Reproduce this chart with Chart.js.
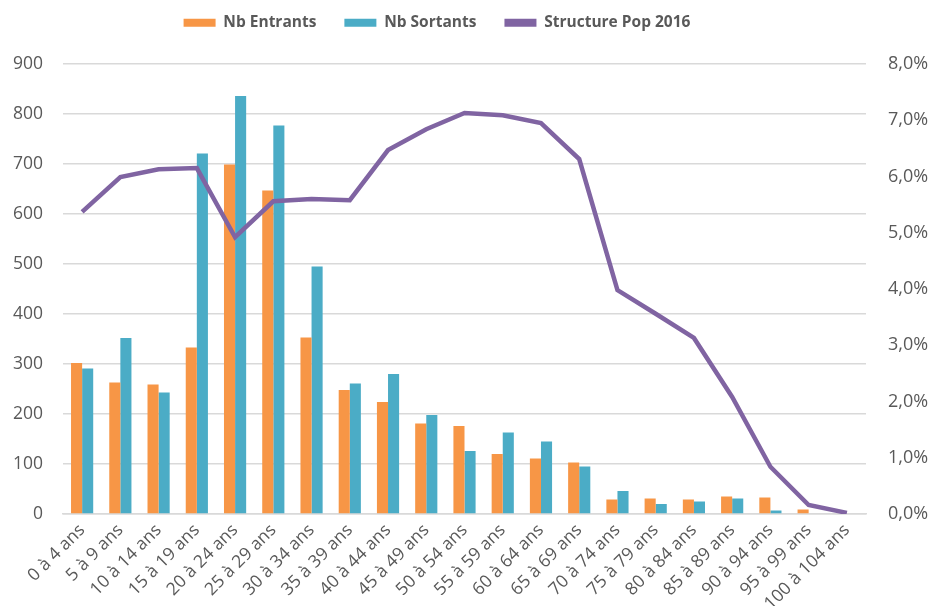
<!DOCTYPE html>
<html>
<head>
<meta charset="utf-8">
<script src="https://cdn.jsdelivr.net/npm/chart.js@4.4.0/dist/chart.umd.min.js"></script>
<style>
html,body{margin:0;padding:0;background:#fff;}
#wrap{width:934px;height:610px;position:relative;}
</style>
</head>
<body>
<div id="wrap"><canvas id="c"></canvas></div>
<script>
const categories = ["0 à 4 ans","5 à 9 ans","10 à 14 ans","15 à 19 ans","20 à 24 ans","25 à 29 ans","30 à 34 ans","35 à 39 ans","40 à 44 ans","45 à 49 ans","50 à 54 ans","55 à 59 ans","60 à 64 ans","65 à 69 ans","70 à 74 ans","75 à 79 ans","80 à 84 ans","85 à 89 ans","90 à 94 ans","95 à 99 ans","100 à 104 ans"];
const entrants = [302,263,259,333,699,647,353,248,224,181,176,120,111,103,29,31,29,35,33,9,0];
const sortants = [291,352,243,721,836,777,495,261,280,198,126,163,145,95,46,20,25,31,7,0,0];
const structurePop2016 = [5.37,5.99,6.13,6.15,4.92,5.56,5.60,5.58,6.47,6.84,7.13,7.09,6.95,6.31,3.98,3.56,3.13,2.08,0.84,0.16,0.02];
const leftTicks = [0,100,200,300,400,500,600,700,800,900];
const rightTicks = [0,1,2,3,4,5,6,7,8];

const FONT = "'Open Sans', sans-serif";
const GREY = '#595959';

const legendPlace = {
  id:'legendPlace',
  beforeLayout(chart){
    const l = chart.legend;
    if (l && !l._patched){
      const orig = l.fit;
      l.fit = function(){ orig.call(this); this.height = 64; };
      l._patched = true;
    }
  },
  afterLayout(chart){
    const l = chart.legend;
    l.top = -13;
    l.right = l.right - 60;
  }
};

new Chart(document.getElementById('c'), {
  data: {
    labels: categories,
    datasets: [
      {type:'bar', label:'Nb Entrants', data: entrants, backgroundColor:'#F79646', yAxisID:'y', categoryPercentage:0.58, barPercentage:1},
      {type:'bar', label:'Nb Sortants', data: sortants, backgroundColor:'#4BACC6', yAxisID:'y', categoryPercentage:0.58, barPercentage:1},
      {type:'line', label:'Structure Pop 2016', data: structurePop2016, borderColor:'#8064A2', backgroundColor:'#8064A2', borderWidth:4.5, pointRadius:0, tension:0, yAxisID:'y1', order:-1}
    ]
  },
  plugins:[legendPlace],
  options: {
    responsive:true,
    maintainAspectRatio:false,
    animation:false,
    layout:{padding:{left:0,right:0,top:0,bottom:4}},
    plugins:{
      tooltip:{enabled:false},
      legend:{
        position:'top',
        labels:{
          sort:(a,b)=>a.datasetIndex-b.datasetIndex,
          boxWidth:32, boxHeight:8, padding:28,
          color:GREY,
          font:{family:FONT, size:15.5, weight:'bold'},
          generateLabels:(chart)=>chart.data.datasets.map((d,i)=>({
            text:d.label, fillStyle:d.type==='line'?d.borderColor:d.backgroundColor,
            strokeStyle:'rgba(0,0,0,0)', lineWidth:0, datasetIndex:i, hidden:false, fontColor:GREY
          }))
        }
      }
    },
    scales:{
      x:{
        grid:{display:false, drawTicks:false},
        border:{display:true, color:'#D9D9D9', width:1.5},
        ticks:{color:GREY, font:{family:FONT, size:17.5}, minRotation:45, maxRotation:45, autoSkip:false, padding:6},
        afterFit:(s)=>{s.height=92;}
      },
      y:{
        position:'left', min:0, max:900,
        afterBuildTicks:(s)=>{s.ticks=leftTicks.map(v=>({value:v}));},
        grid:{color:'#D9D9D9', lineWidth:1.5, drawTicks:false},
        border:{display:false},
        ticks:{color:GREY, font:{family:FONT, size:17.5}, padding:20},
        afterFit:(s)=>{s.width=63;}
      },
      y1:{
        position:'right', min:0, max:8,
        afterBuildTicks:(s)=>{s.ticks=rightTicks.map(v=>({value:v}));},
        grid:{display:false, drawTicks:false},
        border:{display:false},
        ticks:{color:GREY, font:{family:FONT, size:18}, padding:22, callback:(v)=>v.toFixed(1).replace('.',',')+'%'},
        afterFit:(s)=>{s.width=68;}
      }
    }
  }
});
</script>
</body>
</html>
